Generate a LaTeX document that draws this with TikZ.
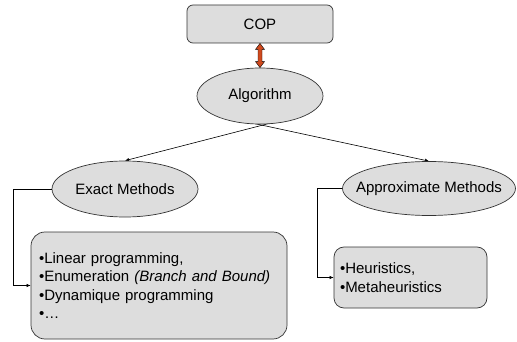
\documentclass[tikz,border=0pt]{standalone}
\usepackage{fontspec}
\setmainfont{Liberation Sans}
\usetikzlibrary{shapes.geometric,arrows.meta,calc,backgrounds}
\definecolor{boxgray}{RGB}{221,221,221}
\definecolor{arrowred}{RGB}{208,74,30}
\tikzset{
  rbox/.style={rectangle, draw=black!80, line width=0.7pt, fill=boxgray, inner sep=0pt},
  ell/.style={ellipse, draw=black!80, line width=0.7pt, fill=boxgray, inner sep=0pt},
  conn/.style={draw=black, line width=0.6pt, -{Latex[length=4pt,width=3.5pt]}},
  txt/.style={font=\fontsize{15}{18.3}\selectfont}
}
\begin{document}
\begin{tikzpicture}[x=1pt,y=-1pt]
\useasboundingbox (0,0) rectangle (517,342);
\node[rbox, txt, rounded corners=6pt, minimum width=146pt, minimum height=38pt] (cop) at (260,24) {COP};
\node[ell, txt, minimum width=126pt, minimum height=56pt] (alg) at (260,96) {Algorithm};
\node[ell, txt, minimum width=146pt, minimum height=56pt] (ex) at (125,189) {Exact Methods};
\node[ell, txt, inner xsep=-16pt, inner ysep=-4pt, minimum width=173pt, minimum height=54pt] (ap) at (429,188.5) {Approximate Methods};
\node[rbox, txt, rounded corners=14pt, minimum width=256pt, minimum height=107pt,
      text width=240pt, inner xsep=8pt, align=left] (exbox) at (159,285.5)
  {•Linear programming,\\•Enumeration \textit{(Branch and Bound)}\\•Dynamique programming\\•…};
\node[rbox, txt, rounded corners=10pt, minimum width=153pt, minimum height=61pt,
      text width=141pt, inner xsep=6pt, align=left] (apbox) at (410.5,277.5)
  {•Heuristics,\\•Metaheuristics};
\begin{scope}[on background layer]
  \draw[conn] ($(alg.south)+(25,-5)$) -- (ex.north);
  \draw[conn] ($(alg.south)+(-25,-5)$) -- (ap.north);
\end{scope}
\draw[conn] (ex.west) -- ++(-38,0) |- (exbox.west);
\draw[conn] (ap.west) -- ++(-25,0) |- (apbox.west);
\filldraw[fill=arrowred, draw=black, line width=0.4pt]
  (cop.south) -- ($(cop.south)+(4.5,6)$) -- ($(cop.south)+(2,6)$) --
  ($(alg.north)+(2,-6)$) -- ($(alg.north)+(4.5,-6)$) -- (alg.north) --
  ($(alg.north)+(-4.5,-6)$) -- ($(alg.north)+(-2,-6)$) --
  ($(cop.south)+(-2,6)$) -- ($(cop.south)+(-4.5,6)$) -- cycle;
\end{tikzpicture}
\end{document}
